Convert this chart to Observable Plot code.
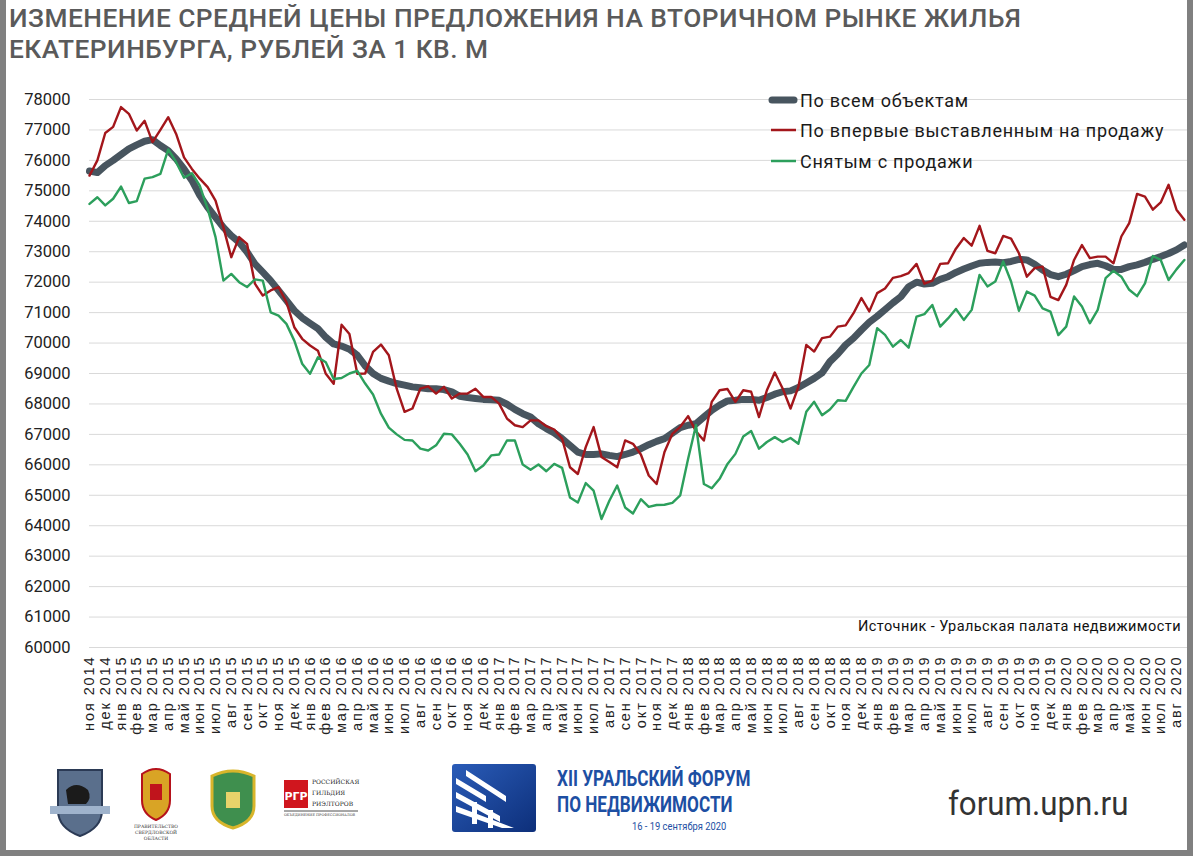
<!DOCTYPE html>
<html><head><meta charset="utf-8">
<script src="https://cdn.jsdelivr.net/npm/d3@7"></script>
<script src="https://cdn.jsdelivr.net/npm/@observablehq/plot@0.6"></script>
<style>
html,body{margin:0;padding:0;background:#fff;}
#page{position:relative;width:1193px;height:860px;overflow:hidden;background:#fff;font-family:Roboto,"Noto Sans",sans-serif;}
#frame{position:absolute;left:0;top:0;width:1181px;height:850px;border-left:6px solid #808080;border-right:6px solid #808080;border-bottom:6px solid #808080;pointer-events:none;}
#title{position:absolute;left:9px;top:3px;color:#5a5a5a;font-family:Roboto;font-weight:500;font-size:26.3px;line-height:31px;letter-spacing:0.47px;white-space:nowrap;}
#chart{position:absolute;left:0;top:0;}
#chart g[aria-label="x-axis tick label"] text{letter-spacing:1.9px;}
.leg{position:absolute;left:768px;height:20px;display:flex;align-items:center;font-family:Roboto;font-size:18px;color:#1a1a1a;white-space:nowrap;letter-spacing:0.75px;}
.leg svg{margin-right:2px;}
#source{position:absolute;left:858px;top:618px;font-family:Roboto;font-size:14.5px;color:#111;white-space:nowrap;letter-spacing:0.43px;}
.abs{position:absolute;}
</style></head>
<body><div id="page">
<div id="title">ИЗМЕНЕНИЕ СРЕДНЕЙ ЦЕНЫ ПРЕДЛОЖЕНИЯ НА ВТОРИЧНОМ РЫНКЕ ЖИЛЬЯ<br>ЕКАТЕРИНБУРГА, РУБЛЕЙ ЗА 1 КВ. М</div>
<div id="chart"></div>
<div class="leg" style="top:90px"><svg width="30" height="12"><line x1="4" y1="6" x2="26" y2="6" stroke="#48555f" stroke-width="7" stroke-linecap="round"/></svg>По всем объектам</div>
<div class="leg" style="top:120px"><svg width="30" height="12"><line x1="3" y1="6" x2="28" y2="6" stroke="#a3161b" stroke-width="2.5"/></svg>По впервые выставленным на продажу</div>
<div class="leg" style="top:151px"><svg width="30" height="12"><line x1="3" y1="6" x2="28" y2="6" stroke="#2c9f5c" stroke-width="2.5"/></svg>Снятым с продажи</div>
<div id="source">Источник - Уральская палата недвижимости</div>

<!-- footer logos (decorative) -->
<svg class="abs" style="left:50px;top:762px" width="320" height="80">
  <path d="M8,8 h44 v40 q0,18 -22,26 q-22,-8 -22,-26 z" fill="#5a6f8c" stroke="#2b3a55" stroke-width="2"/>
  <path d="M16,28 q10,-10 22,0 q4,8 -2,14 h-18 z" fill="#1b1b1b"/>
  <rect x="0" y="44" width="60" height="8" fill="#9fb3cc"/>
  <path d="M92,12 q14,-10 28,0 v26 q0,14 -14,20 q-14,-6 -14,-20 z" fill="#d9a425" stroke="#b5121b" stroke-width="2"/>
  <rect x="100" y="22" width="12" height="16" fill="#c0141c"/>
  <text x="106" y="66" font-size="4.5" text-anchor="middle" font-family="DejaVu Serif" fill="#333">ПРАВИТЕЛЬСТВО</text>
  <text x="106" y="72" font-size="4.5" text-anchor="middle" font-family="DejaVu Serif" fill="#333">СВЕРДЛОВСКОЙ</text>
  <text x="106" y="78" font-size="4.5" text-anchor="middle" font-family="DejaVu Serif" fill="#333">ОБЛАСТИ</text>
  <path d="M162,14 q21,-10 42,0 v30 q0,16 -21,22 q-21,-6 -21,-22 z" fill="#3f8f4e" stroke="#d8b52b" stroke-width="3"/>
  <rect x="176" y="30" width="14" height="16" fill="#e8d36a"/>
  <rect x="234" y="18" width="24" height="28" fill="#d0161e"/>
  <text x="246" y="38" font-size="11" font-weight="bold" text-anchor="middle" fill="#fff" font-family="DejaVu Sans">РГР</text>
  <text x="262" y="22" font-size="6" font-family="DejaVu Serif" fill="#222">РОССИЙСКАЯ</text>
  <text x="262" y="33" font-size="6" font-family="DejaVu Serif" fill="#222">ГИЛЬДИЯ</text>
  <text x="262" y="44" font-size="6" font-family="DejaVu Serif" fill="#222">РИЭЛТОРОВ</text>
  <line x1="234" y1="49" x2="308" y2="49" stroke="#222" stroke-width="0.8"/>
  <text x="234" y="54" font-size="3.5" font-family="DejaVu Serif" fill="#444">ОБЪЕДИНЕНИЕ ПРОФЕССИОНАЛОВ</text>
</svg>
<svg class="abs" style="left:452px;top:764px" width="84" height="68">
  <defs><linearGradient id="bg" x1="0" y1="0" x2="1" y2="1"><stop offset="0" stop-color="#2a5cb8"/><stop offset="1" stop-color="#0d2f7a"/></linearGradient></defs>
  <rect x="0" y="0" width="84" height="68" rx="3" fill="url(#bg)"/>
  <path d="M4,14 l30,18 v6 l-30,-18 z M4,28 l44,24 v6 l-44,-24 z M4,42 l58,22 h-12 l-46,-16 z M14,6 l40,26 v6 l-40,-26 z" fill="#fff"/>
  <path d="M20,60 v-22 h5 v22 z M36,64 v-18 h5 v18 z" fill="#fff"/>
</svg>
<div class="abs" style="left:557px;top:766px;color:#1d4fa3;font-family:Roboto;font-weight:700;font-size:22px;line-height:26px;transform:scaleX(0.78);transform-origin:0 0;white-space:nowrap;">XII УРАЛЬСКИЙ ФОРУМ<br>ПО НЕДВИЖИМОСТИ</div>
<div class="abs" style="left:632px;top:820px;color:#1d4fa3;font-family:Roboto;font-size:11px;transform:scaleX(0.85);transform-origin:0 0;white-space:nowrap;">16 - 19 сентября 2020</div>
<div class="abs" style="left:948px;top:783px;color:#333;font-family:Roboto;font-size:34px;transform:scaleX(0.92);transform-origin:0 0;white-space:nowrap;">forum.upn.ru</div>
<div id="frame"></div>
</div>
<script>
// Month tick labels (one per month, Nov 2014 – Aug 2020)
const months = [
 "ноя 2014","дек 2014",
 "янв 2015","фев 2015","мар 2015","апр 2015","май 2015","июн 2015","июл 2015","авг 2015","сен 2015","окт 2015","ноя 2015","дек 2015",
 "янв 2016","фев 2016","мар 2016","апр 2016","май 2016","июн 2016","июл 2016","авг 2016","сен 2016","окт 2016","ноя 2016","дек 2016",
 "янв 2017","фев 2017","мар 2017","апр 2017","май 2017","июн 2017","июл 2017","авг 2017","сен 2017","окт 2017","ноя 2017","дек 2017",
 "янв 2018","фев 2018","мар 2018","апр 2018","май 2018","июн 2018","июл 2018","авг 2018","сен 2018","окт 2018","ноя 2018","дек 2018",
 "янв 2019","фев 2019","мар 2019","апр 2019","май 2019","июн 2019","июл 2019","авг 2019","сен 2019","окт 2019","ноя 2019","дек 2019",
 "янв 2020","фев 2020","мар 2020","апр 2020","май 2020","июн 2020","июл 2020","авг 2020"
];
const yTicks = [60000,61000,62000,63000,64000,65000,66000,67000,68000,69000,70000,71000,72000,73000,74000,75000,76000,77000,78000];

// Values read every half month, starting at Nov 2014
const allObjects = [
75650,75600,75830,76000,76190,76380,76510,76630,76680,76490,
76320,76050,75720,75340,74850,74460,74130,73800,73530,73310,
72990,72600,72330,72050,71730,71400,71070,70830,70650,70470,
70190,69970,69900,69800,69600,69250,69000,68840,68750,68670,
68620,68560,68530,68500,68500,68470,68400,68250,68210,68180,
68150,68140,68120,67990,67820,67680,67570,67350,67190,67050,
66860,66640,66420,66340,66340,66360,66310,66270,66340,66420,
66530,66660,66770,66860,67040,67220,67300,67350,67570,67790,
67960,68100,68120,68150,68150,68120,68210,68320,68400,68430,
68540,68690,68840,69020,69390,69640,69940,70160,70430,70680,
70880,71100,71320,71520,71850,72000,71940,71960,72090,72180,
72320,72430,72530,72620,72650,72660,72640,72680,72750,72730,
72590,72400,72250,72180,72260,72380,72510,72580,72620,72540,
72420,72420,72510,72570,72650,72750,72840,72940,73060,73220
];
const newListings = [
75500,76000,76900,77100,77750,77530,76980,77300,76600,77000,
77420,76870,76100,75720,75400,75120,74680,73800,72820,73480,
73260,71950,71560,71730,71840,71340,70520,70140,69920,69750,
68990,68660,70600,70300,68990,69000,69710,69950,69600,68500,
67740,67850,68500,68580,68340,68560,68180,68340,68340,68500,
68230,68230,68010,67520,67300,67240,67460,67460,67270,67160,
66860,65920,65700,66580,67240,66260,66090,65920,66800,66690,
66340,65650,65370,66420,67020,67250,67600,67100,66800,68070,
68450,68490,68070,68450,68400,67570,68450,69030,68510,67850,
68560,69940,69720,70160,70210,70540,70580,70980,71480,71040,
71640,71790,72140,72200,72300,72600,71950,72050,72600,72620,
73100,73450,73200,73850,73030,72950,73520,73430,72950,72180,
72460,72510,71520,71410,71910,72730,73220,72790,72840,72840,
72620,73500,73940,74900,74810,74380,74620,75200,74380,74050
];
const removed = [
74570,74790,74520,74740,75140,74600,74660,75400,75450,75560,
76360,75940,75430,75580,75170,74410,73480,72050,72270,72000,
71840,72090,72050,71010,70900,70630,70080,69320,68990,69530,
69370,68820,68850,69000,69090,68670,68310,67680,67220,67000,
66820,66800,66530,66470,66640,67020,67000,66690,66340,65790,
65980,66310,66340,66800,66800,66010,65840,66010,65790,66030,
65900,64930,64760,65400,65150,64220,64820,65320,64600,64400,
64870,64620,64680,64690,64750,65000,66200,67300,65370,65230,
65540,66030,66360,66930,67110,66530,66750,66910,66750,66880,
66690,67740,68070,67630,67820,68120,68100,68560,69000,69280,
70490,70270,69880,70100,69850,70870,70950,71250,70540,70810,
71120,70760,71090,72240,71860,72020,72680,72020,71060,71690,
71560,71140,71030,70260,70540,71530,71200,70650,71090,72130,
72370,72180,71750,71540,71960,72860,72730,72070,72420,72730
];

const toRows = vals => vals.map((v, i) => ({t: i / 2, v}));
const monthIdx = months.map((m, i) => i);

const chart = Plot.plot({
  width: 1193,
  height: 745,
  marginLeft: 89,
  marginRight: 6,
  marginTop: 99,
  marginBottom: 98,
  style: {background: "transparent", fontFamily: "Roboto", overflow: "visible"},
  x: {domain: [0, 69.7]},
  y: {domain: [60000, 78000]},
  marks: [
    Plot.gridY(yTicks, {stroke: "#d9d9d9", strokeOpacity: 1, strokeWidth: 1}),
    Plot.axisY(yTicks, {tickSize: 0, tickPadding: 19, tickFormat: d => String(d), fontSize: 16.5, fill: "#222", label: null}),
    Plot.axisX(monthIdx, {tickSize: 0, tickPadding: 8, tickRotate: -90, tickFormat: i => months[i], fontSize: 14.5, fontFamily: "Liberation Sans", fill: "#222", label: null}),
    Plot.line(toRows(allObjects), {x: "t", y: "v", stroke: "#48555f", strokeWidth: 7, strokeLinecap: "round", strokeLinejoin: "round"}),
    Plot.line(toRows(newListings), {x: "t", y: "v", stroke: "#a3161b", strokeWidth: 2.4, strokeLinejoin: "round"}),
    Plot.line(toRows(removed), {x: "t", y: "v", stroke: "#2c9f5c", strokeWidth: 2.4, strokeLinejoin: "round"})
  ]
});
document.getElementById("chart").appendChild(chart);
</script>
</body></html>
